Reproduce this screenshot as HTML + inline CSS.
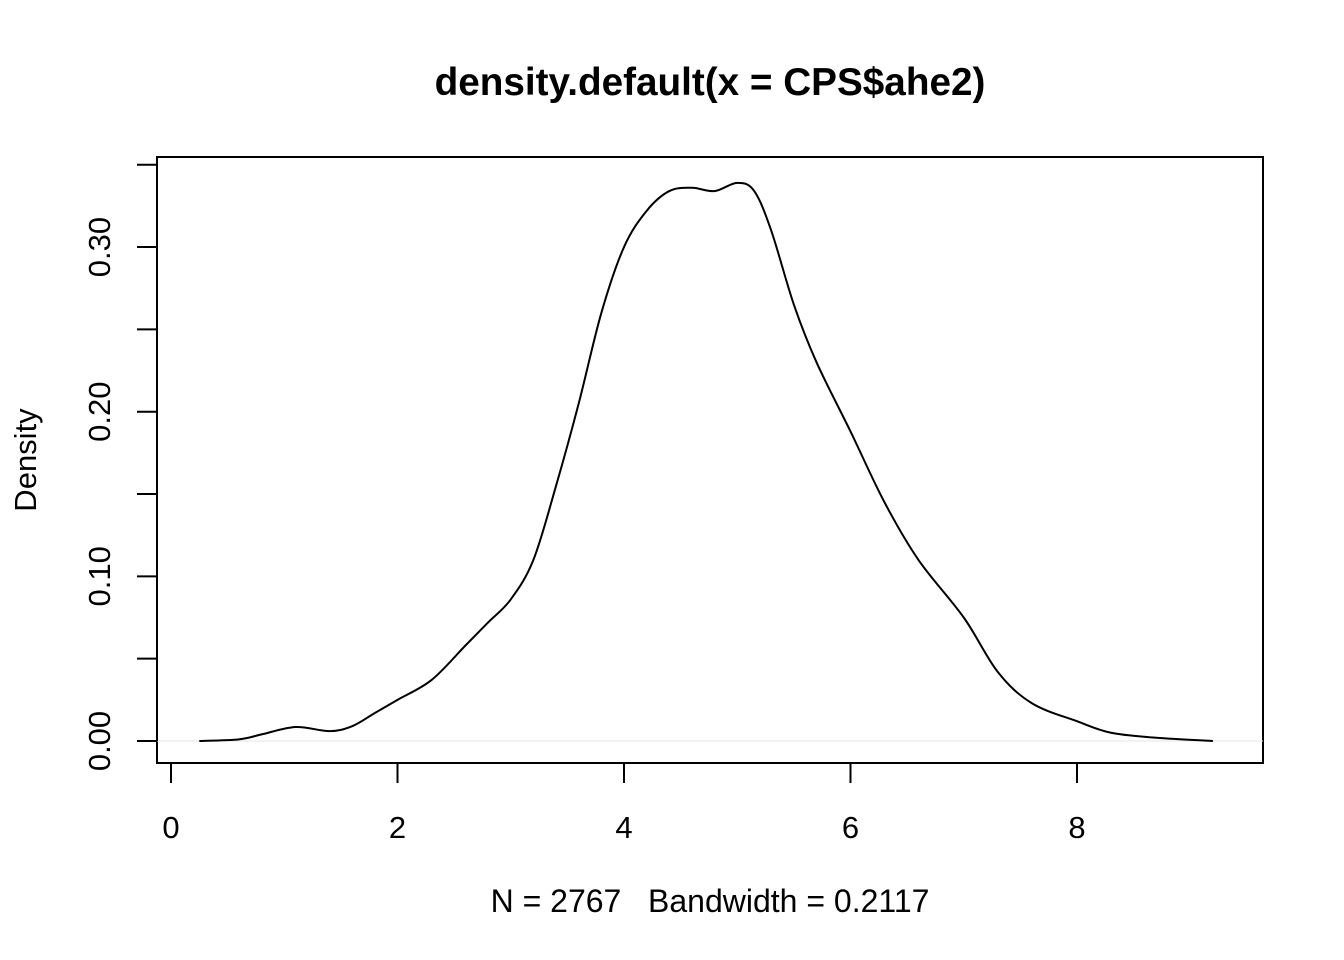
<!DOCTYPE html>
<html><head><meta charset="utf-8"><style>
body{margin:0;background:#fff;}
svg{display:block;font-family:"Liberation Sans",Arial,sans-serif;}
</style></head><body>
<svg id="chart" width="1344" height="960">
<text x="710" y="95" text-anchor="middle" font-size="38.7" font-weight="bold">density.default(x = CPS$ahe2)</text>
<rect x="157" y="157" width="1106" height="606" fill="none" stroke="#000" stroke-width="2"/>
<text x="710" y="912" text-anchor="middle" font-size="32" style="white-space:pre" xml:space="preserve">N = 2767   Bandwidth = 0.2117</text>
<text transform="translate(36,460) rotate(-90)" text-anchor="middle" font-size="31">Density</text>
<g id="axes"></g>
<path id="curve" fill="none" stroke="#000" stroke-width="2"/>
</svg>
<script>
const xTicks=[0,2,4,6,8];
const yTicks=[0,0.05,0.1,0.15,0.2,0.25,0.3,0.35];
const yLabels=["0.00","0.10","0.20","0.30"];
const xs=[0.25,0.6,0.8,1.1,1.4,1.6,1.8,2.0,2.3,2.6,2.8,3.0,3.2,3.4,3.6,3.8,4.0,4.2,4.4,4.6,4.8,5.0,5.15,5.3,5.5,5.7,6.0,6.3,6.6,7.0,7.3,7.6,8.0,8.3,8.7,9.2];
const ys=[0,0.001,0.004,0.0085,0.006,0.009,0.017,0.025,0.037,0.058,0.072,0.086,0.11,0.155,0.205,0.26,0.3,0.322,0.334,0.336,0.334,0.339,0.334,0.31,0.265,0.23,0.188,0.145,0.11,0.075,0.042,0.023,0.012,0.005,0.002,0];
const sx=v=>171+v*113.25;
const sy=v=>741-v*1646.5;
const NS="http://www.w3.org/2000/svg";
const ax=document.getElementById('axes');
function mk(t,a){const e=document.createElementNS(NS,t);for(const k in a)e.setAttribute(k,a[k]);ax.appendChild(e);return e;}
const zl=mk('line',{x1:157,x2:1263,y1:sy(0),y2:sy(0),stroke:'#e6e6e6','stroke-width':1});


mk('line',{x1:sx(0),x2:sx(8),y1:763,y2:763,stroke:'#000','stroke-width':2});
mk('line',{x1:157,x2:157,y1:sy(0),y2:sy(0.35),stroke:'#000','stroke-width':2});
xTicks.forEach(v=>{
 const l=mk('line',{x1:sx(v),x2:sx(v),y1:763,y2:783,stroke:'#000','stroke-width':2});
 
 
 const t=mk('text',{x:sx(v),y:838,'text-anchor':'middle','font-size':31});
 t.textContent=v;
 
 
});
yTicks.forEach(v=>{
 const l=mk('line',{x1:137,x2:157,y1:sy(v),y2:sy(v),stroke:'#000','stroke-width':2});
 
 
});
yLabels.forEach(s=>{
 const v=parseFloat(s);
 const t=mk('text',{transform:`translate(110,${sy(v)}) rotate(-90)`,'text-anchor':'middle','font-size':31});
 t.textContent=s;
 
 
});
const P=xs.map((x,i)=>[sx(x),sy(ys[i])]);
let d=`M${P[0][0]},${P[0][1]}`;
for(let i=0;i<P.length-1;i++){
 const p0=P[Math.max(0,i-1)],p1=P[i],p2=P[i+1],p3=P[Math.min(P.length-1,i+2)];
 const c1=[p1[0]+(p2[0]-p0[0])/6,p1[1]+(p2[1]-p0[1])/6];
 const c2=[p2[0]-(p3[0]-p1[0])/6,p2[1]-(p3[1]-p1[1])/6];
 d+=` C${c1[0]},${c1[1]} ${c2[0]},${c2[1]} ${p2[0]},${p2[1]}`;
}
document.getElementById('curve').setAttribute('d',d);
</script>
</body></html>
